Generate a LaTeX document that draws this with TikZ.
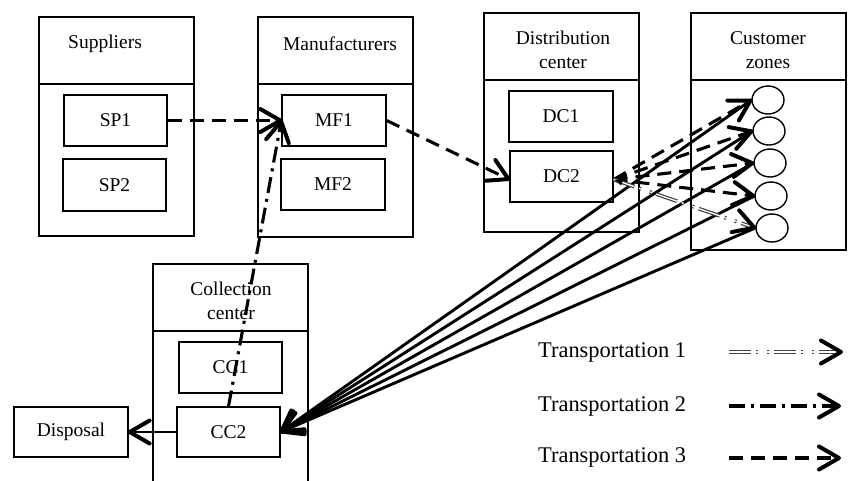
\documentclass[tikz,border=0pt]{standalone}
\usepackage{fontspec}
\setmainfont{Liberation Serif}
\usetikzlibrary{arrows.meta,shapes.geometric,decorations.markings}
\begin{document}
\begin{tikzpicture}[x=1pt,y=-1pt,
  box/.style={draw, line width=1.3pt, inner sep=0pt, font=\fontsize{19.5}{27}\selectfont},
  lbl/.style={inner sep=0pt, font=\fontsize{19.5}{24.5}\selectfont, align=center},
  zone/.style={draw, ellipse, line width=1.4pt, minimum width=32pt, minimum height=28pt, inner sep=0pt},
  tipend/.style={postaction={decorate, decoration={markings,
      mark=at position 1 with {\draw[black, solid, line width=4pt, line cap=round, line join=round]
        (-21pt,11.5pt) -- (-1pt,0pt) -- (-21pt,-11.5pt);}}}},
  solidc/.style={line width=2.9pt, tipend},
  t3/.style={line width=3.1pt, dash pattern=on 14pt off 8pt, tipend},
  t2/.style={line width=3.1pt, dash pattern=on 16pt off 6pt on 3pt off 6pt, tipend},
  t1line/.style={draw=none,
    postaction={draw, black!75, line width=1.2pt, double=white, double distance=1.3pt,
      dash pattern=on 22pt off 5pt on 2pt off 9pt on 2pt off 5pt, shorten >=3pt}},
  t1/.style={t1line, tipend},
  t1b/.style={t1line, tipend,
    postaction={draw, black, line width=2.5pt, dash pattern=on 0pt off 5000pt,
      {Latex[length=9pt,width=7pt]}-}},
  leg/.style={inner sep=0pt, anchor=west, font=\fontsize{22.4}{26}\selectfont}
]
\useasboundingbox (0,0) rectangle (848,480);

% group boxes
\node[box, minimum width=155pt, minimum height=219pt] (sup) at (116.5,126.5) {};
\node[box, minimum width=155pt, minimum height=220pt] (man) at (335.5,127) {};
\node[box, minimum width=155pt, minimum height=219pt] (dis) at (561.5,122.5) {};
\node[box, minimum width=155pt, minimum height=237pt] (cus) at (768.5,131.5) {};
\node[box, minimum width=155pt, minimum height=240pt] (col) at (230.5,384) {};

% header dividers
\draw[line width=1.3pt] (39,84) -- (194,84);
\draw[line width=1.3pt] (258,84) -- (413,84);
\draw[line width=1.3pt] (484,80) -- (639,80);
\draw[line width=1.3pt] (691,80) -- (846,80);
\draw[line width=1.3pt] (153,331) -- (308,331);

% headers
\node[lbl] (hsup) at (105,44) {Suppliers};
\node[lbl] (hman) at (340,44) {Manufacturers};
\node[lbl] (hdis) at (563,50) {Distribution\\center};
\node[lbl] (hcus) at (768,50) {Customer\\zones};
\node[lbl] (hcol) at (231,301) {Collection\\center};

% inner boxes
\node[box, minimum width=103pt, minimum height=51pt] (sp1) at (115.5,120.5) {SP1};
\node[box, minimum width=103pt, minimum height=52pt] (sp2) at (114.5,185) {SP2};
\node[box, minimum width=104pt, minimum height=51pt] (mf1) at (334,120.5) {MF1};
\node[box, minimum width=104pt, minimum height=51pt] (mf2) at (333,184.5) {MF2};
\node[box, minimum width=104pt, minimum height=51pt] (dc1) at (561,116.5) {DC1};
\node[box, minimum width=103pt, minimum height=51pt] (dc2) at (561.5,176.5) {DC2};
\node[box, minimum width=103pt, minimum height=51pt] (cc1) at (230.5,367.5) {CC1};
\node[box, minimum width=103pt, minimum height=50pt] (cc2) at (228.5,432) {CC2};
\node[box, minimum width=114pt, minimum height=50pt] (disp) at (71,432) {Disposal};

% customer zones
\node[zone] (z1) at (768,100) {};
\node[zone] (z2) at (769,131) {};
\node[zone] (z3) at (770,163) {};
\node[zone] (z4) at (771,196) {};
\node[zone] (z5) at (772,228) {};

% connectors
\draw[t3] (sp1.east) -- (mf1.west);
\draw[t3] (mf1.east) -- ([yshift=-3pt]dc2.west);
\draw[t2] (cc2.north) -- (mf1.west);
\draw[solidc] (cc2.west) -- (disp.east);

\foreach \z in {z1,z2,z3,z4,z5}
  \draw[solidc] (\z.west) -- (cc2.east);

\foreach \z in {z1,z2,z3,z4}
  \draw[t3] ([yshift=-3pt]dc2.east) -- (\z.west);
\draw[t1b] ([yshift=-3pt]dc2.east) -- (z5.west);

% legend
\node[leg] (leg1) at (538,352) {Transportation 1};
\node[leg] (leg2) at (538,406) {Transportation 2};
\node[leg] (leg3) at (538,457) {Transportation 3};
\coordinate (l1a) at (729,352); \coordinate (l1b) at (842,352);
\coordinate (l2a) at (729,406); \coordinate (l2b) at (840,406);
\coordinate (l3a) at (729,458); \coordinate (l3b) at (840,458);
\draw[t1] (l1a) -- (l1b);
\draw[t2] (l2a) -- (l2b);
\draw[t3] (l3a) -- (l3b);
\end{tikzpicture}
\end{document}
